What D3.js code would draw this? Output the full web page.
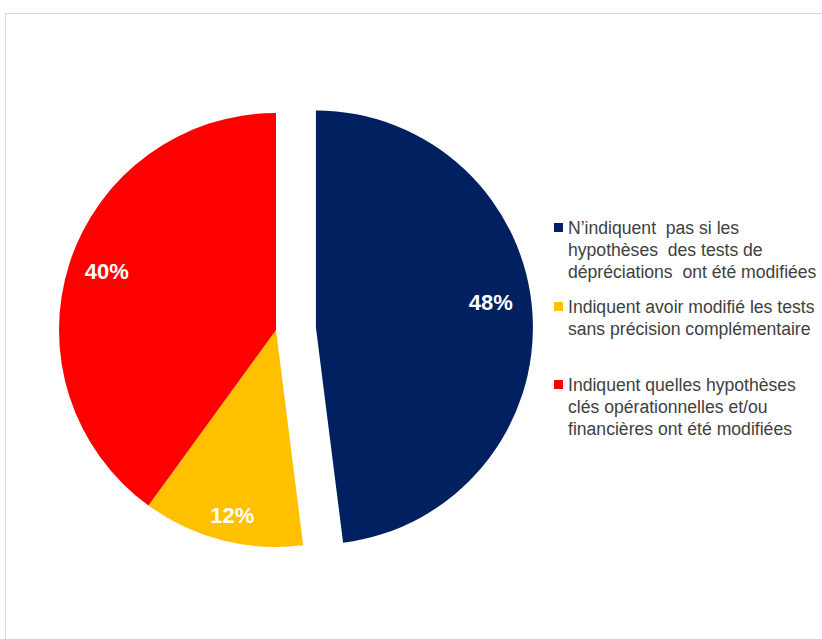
<!DOCTYPE html>
<html>
<head>
<meta charset="utf-8">
<script src="https://cdn.jsdelivr.net/npm/d3@7"></script>
<style>
  body { margin: 0; background: #fff; }
</style>
</head>
<body>
<script>
// data
let categories = [
  "N’indiquent  pas si les hypothèses des tests de dépréciations ont été modifiées",
  "Indiquent avoir modifié les tests sans précision complémentaire",
  "Indiquent quelles hypothèses clés opérationnelles et/ou financières ont été modifiées"
];
let values = [48, 12, 40];
let labels = ["48%", "12%", "40%"];
let legendLines = [
  ["N’indiquent  pas si les", "hypothèses  des tests de", "dépréciations  ont été modifiées"],
  ["Indiquent avoir modifié les tests", "sans précision complémentaire"],
  ["Indiquent quelles hypothèses", "clés opérationnelles et/ou", "financières ont été modifiées"]
];
let colors = ["#002060", "#FFC000", "#FF0000"];

let svg = d3.select("body").append("svg")
  .attr("width", 822)
  .attr("height", 639);

// light frame of the chart area
svg.append("path")
  .attr("d", "M5.5,639 L5.5,13.5 L822,13.5")
  .attr("fill", "none")
  .attr("stroke", "#d9d9d9")
  .attr("stroke-width", 1);

let cx = 276, cy = 330;
let radius = 217;
let explode = [40, 0, 0]; //only the first slice is pulled out
let labelNudge = [[-5, -14], [1, 11], [2, -3]]; //small shifts so labels sit like the original

let pie = d3.pie().sort(null).value(d => d);
let arcs = pie(values);

let arc = d3.arc().innerRadius(0).outerRadius(radius);
let labelArc = d3.arc().innerRadius(radius * 0.83).outerRadius(radius * 0.83);

let g = svg.append("g")
  .attr("transform", `translate(${cx}, ${cy})`);

let sliceG = g.selectAll("g.slice")
  .data(arcs)
  .enter().append("g")
  .attr("class", "slice")
  .attr("transform", (d, i) => {
    let mid = (d.startAngle + d.endAngle) / 2;
    return `translate(${explode[i] * Math.sin(mid)}, ${-explode[i] * Math.cos(mid)})`;
  });

sliceG.append("path")
  .attr("d", arc)
  .attr("fill", (d, i) => colors[i]);

sliceG.append("text")
  .attr("transform", (d, i) => {
    let c = labelArc.centroid(d);
    return "translate(" + (c[0] + labelNudge[i][0]) + "," + (c[1] + labelNudge[i][1]) + ")";
  })
  .attr("dy", ".35em")
  .attr("text-anchor", "middle")
  .attr("font-family", "Liberation Sans, Arial, sans-serif")
  .attr("font-weight", "bold")
  .attr("font-size", 22)
  .attr("fill", "white")
  .text((d, i) => labels[i]);

// legend
let legendY = [228, 307, 385];
let lineH = 22;
let legend = svg.append("g")
  .attr("font-family", "Liberation Sans, Arial, sans-serif")
  .attr("font-size", 17.6)
  .attr("fill", "#404040");

legendLines.forEach((lines, i) => {
  legend.append("rect")
    .attr("x", 554)
    .attr("y", legendY[i] - 5)
    .attr("width", 9)
    .attr("height", 9)
    .attr("fill", colors[i]);
  lines.forEach((t, j) => {
    legend.append("text")
      .attr("x", 568)
      .attr("y", legendY[i] + j * lineH)
      .attr("dy", ".35em")
      .style("white-space", "pre")
      .text(t);
  });
});
</script>
</body>
</html>
